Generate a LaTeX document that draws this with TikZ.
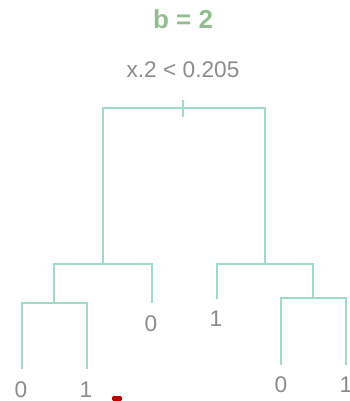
\documentclass[tikz,border=0pt]{standalone}
\usepackage{fontspec}
\setmainfont{Liberation Sans}
\usepackage{tikz}
\usetikzlibrary{positioning}
\definecolor{branch}{HTML}{9DDCC8}
\definecolor{heading}{HTML}{8FBF8F}
\definecolor{leaftext}{HTML}{8C8C8C}
\definecolor{marker}{HTML}{C00000}

\begin{document}
\begin{tikzpicture}[x=0.75pt,y=-0.75pt,
  edge/.style={draw=branch,line width=1.5pt},
  leaf/.style={text=leaftext,font=\fontsize{17}{20}\selectfont,inner sep=0pt}]
\useasboundingbox (0,0) rectangle (350,401);
% heading and split rule
\node[text=heading,font=\fontsize{19.5}{22}\selectfont\bfseries] (title) at (183,19){b = 2};
\node[leaf] (rule) at (183,70){x.2 < 0.205};
% split points
\coordinate (root) at (183,108);
\coordinate (sl) at (103,264); \coordinate (sr) at (265,264);
\coordinate (sll) at (54,303); \coordinate (slr) at (152,303);
\coordinate (srl) at (217,299); \coordinate (srr) at (313,298);
\coordinate (e1) at (22,369); \coordinate (e2) at (87,369);
\coordinate (e5) at (281,365); \coordinate (e6) at (346,365);
% leaf labels
\node[leaf] (l1) at (21,390){0};
\node[leaf] (l2) at (86,390){1};
\node[leaf] (l3) at (151,324){0};
\node[leaf] (l4) at (216,319){1};
\node[leaf] (l5) at (281,385){0};
\node[leaf] (l6) at (346,385){1};
% tree
\draw[edge] (sl) |- (root) -| (sr);
\draw[edge] ([yshift=6pt]root) -- ([yshift=-6.75pt]root);
\draw[edge] (sll) |- (sl) -| (slr);
\draw[edge] (srl) |- (sr) -| (srr);
\draw[edge] (e1) |- (sll) -| (e2);
\draw[edge] (e5) |- (srr) -| (e6);
\fill[marker,rounded corners=1pt] (112,396) rectangle (122,401);
\end{tikzpicture}
\end{document}
